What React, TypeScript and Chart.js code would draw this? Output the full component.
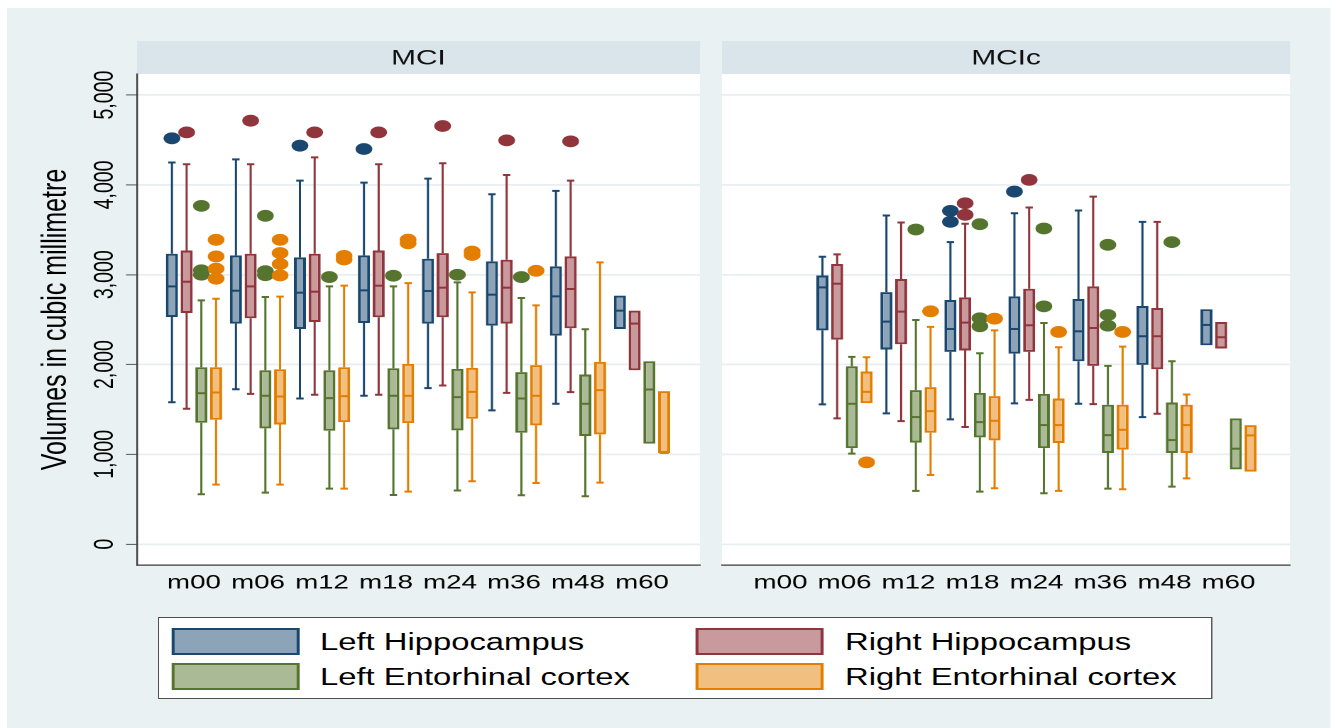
import React, { useEffect, useRef } from "react";
import { Chart, registerables } from "chart.js";

Chart.register(...registerables);

const FONT = '"Liberation Sans", Arial, Helvetica, sans-serif';
Chart.defaults.font.family = FONT;

// ---------------- data ----------------
const timepoints = ["m00", "m06", "m12", "m18", "m24", "m36", "m48", "m60"];
const panelTitles = ["MCI", "MCIc"];
const seriesNames = [
  "Left Hippocampus",
  "Right Hippocampus",
  "Left Entorhinal cortex",
  "Right Entorhinal cortex",
];
const lineColors = ["#1a476f", "#90353b", "#55752f", "#e37e00"];
const fillColors = ["#8ca3b8", "#c8999d", "#aab996", "#f1bf7f"];
const yTickValues = [0, 1000, 2000, 3000, 4000, 5000];
const yTickLabels = ["0", "1,000", "2,000", "3,000", "4,000", "5,000"];
const yAxisTitle = "Volumes in cubic millimetre";

// each entry: [lower whisker, Q1, median, Q3, upper whisker]; null = no data
const mciLeftHippocampus = [
  [1580, 2530, 2870, 3233, 4250],
  [1725, 2456, 2822, 3215, 4285],
  [1622, 2396, 2800, 3193, 4048],
  [1652, 2463, 2826, 3215, 4026],
  [1737, 2456, 2819, 3178, 4070],
  [1489, 2433, 2778, 3148, 3896],
  [1563, 2322, 2759, 3093, 3933],
  [2396, 2396, 2600, 2767, 2767],
];
const mciRightHippocampus = [
  [1508, 2574, 2922, 3270, 4230],
  [1674, 2515, 2870, 3233, 4230],
  [1663, 2474, 2811, 3233, 4307],
  [1663, 2526, 2878, 3270, 4230],
  [1767, 2526, 2856, 3241, 4241],
  [1685, 2456, 2856, 3167, 4111],
  [1693, 2404, 2841, 3204, 4048],
  [1937, 1937, 2456, 2600, 2600],
];
const mciLeftEntorhinal = [
  [556, 1352, 1681, 1970, 2714],
  [574, 1289, 1652, 1937, 2752],
  [619, 1263, 1626, 1937, 2870],
  [548, 1278, 1652, 1959, 2870],
  [597, 1267, 1637, 1952, 2915],
  [544, 1241, 1622, 1915, 2741],
  [533, 1204, 1563, 1889, 2393],
  [1119, 1119, 1722, 2037, 2037],
];
const mciRightEntorhinal = [
  [663, 1385, 1689, 1970, 2733],
  [663, 1333, 1644, 1948, 2756],
  [619, 1359, 1648, 1970, 2878],
  [585, 1348, 1652, 2008, 2907],
  [700, 1396, 1696, 1963, 2804],
  [681, 1322, 1652, 1993, 2659],
  [685, 1222, 1715, 2030, 3137],
  [1015, 1015, 1015, 1704, 1704],
];
const mciLeftHippocampusOutliers = [[4519], [], [4437], [4400], [], [], [], []];
const mciRightHippocampusOutliers = [[4585], [4715], [4585], [4585], [4656], [4496], [4485], []];
const mciLeftEntorhinalOutliers = [[3767, 3050, 3000], [3656, 3040, 2995], [2974], [2989], [3000], [2974], [], []];
const mciRightEntorhinalOutliers = [
  [3389, 3204, 3067, 2956],
  [3389, 3241, 3119, 2992],
  [3210, 3170],
  [3390, 3350],
  [3259, 3220],
  [3044],
  [],
  [],
];

const mcicLeftHippocampus = [
  null,
  [1556, 2381, 2859, 2992, 3200],
  [1456, 2167, 2478, 2807, 3659],
  [1389, 2141, 2396, 2719, 3363],
  [1567, 2122, 2396, 2759, 3685],
  [1563, 2037, 2370, 2730, 3715],
  [1415, 1996, 2315, 2652, 3589],
  [2215, 2215, 2441, 2615, 2615],
];
const mcicRightHippocampus = [
  null,
  [1400, 2278, 2900, 3119, 3226],
  [1370, 2226, 2589, 2952, 3581],
  [1304, 2156, 2467, 2748, 3567],
  [1607, 2141, 2437, 2844, 3748],
  [1559, 1985, 2407, 2870, 3870],
  [1452, 1948, 2315, 2630, 3589],
  [2178, 2178, 2304, 2474, 2474],
];
const mcicLeftEntorhinal = [
  null,
  [1008, 1070, 1563, 1981, 2085],
  [593, 1130, 1415, 1715, 2496],
  [585, 1189, 1359, 1685, 2126],
  [567, 1070, 1326, 1674, 2463],
  [619, 1015, 1214, 1552, 1985],
  [641, 1015, 1159, 1578, 2037],
  [833, 833, 1063, 1400, 1400],
];
const mcicRightEntorhinal = [
  null,
  [1570, 1570, 1696, 1922, 2081],
  [770, 1241, 1481, 1748, 2419],
  [622, 1156, 1374, 1648, 2381],
  [593, 1126, 1326, 1622, 2193],
  [611, 1052, 1274, 1552, 2200],
  [733, 1015, 1326, 1552, 1667],
  [807, 807, 1211, 1326, 1326],
];
const mcicLeftHippocampusOutliers = [[], [], [], [3711, 3589], [3926], [], [], []];
const mcicRightHippocampusOutliers = [[], [], [], [3796, 3667], [4056], [], [], []];
const mcicLeftEntorhinalOutliers = [[], [], [3504], [3563, 2515, 2426], [3515, 2648], [3333, 2552, 2433], [3363], []];
const mcicRightEntorhinalOutliers = [[], [911], [2593], [2511], [2363], [2363], [], []];

// ---------------- layout ----------------
const PAGE_W = 1336;
const PAGE_H = 728;
const W = 941; // logical width, stretched horizontally to the page width
const SX = PAGE_W / W;
const lx = (pageX: number) => pageX / SX;

const HEADER_TOP = 41;
const PLOT_TOP = 74;
const PLOT_BOTTOM = 565;
const X_AXIS_H = 40;
const PANELS = [
  { left: lx(137), right: lx(700), xmin: (137 - 194) / 64, xmax: (700 - 194) / 64 },
  { left: lx(722), right: lx(1290), xmin: (722 - 780.5) / 64, xmax: (1290 - 780.5) / 64 },
];
const Y_MIN = -232;
const Y_MAX = 5235;

const boxPlotPlugin: any = {
  id: "boxPlotDecor",
  beforeDraw(chart: any, _args: any, opts: any) {
    const { ctx, chartArea: a } = chart;
    ctx.save();
    ctx.fillStyle = "#ffffff";
    ctx.fillRect(a.left, a.top, a.right - a.left, a.bottom - a.top);
    ctx.fillStyle = "#d9e5eb";
    ctx.fillRect(a.left, HEADER_TOP, a.right - a.left, a.top - HEADER_TOP);
    ctx.fillStyle = "#111111";
    ctx.font = `21px ${FONT}`;
    ctx.textAlign = "center";
    ctx.textBaseline = "middle";
    ctx.fillText(opts.title, (a.left + a.right) / 2, (HEADER_TOP + a.top) / 2 + 1);
    ctx.restore();
  },
  afterDatasetsDraw(chart: any) {
    const { ctx } = chart;
    const ys = chart.scales.y;
    ctx.save();
    const dots: any[] = [];
    chart.data.datasets.forEach((ds: any, di: number) => {
      const meta = chart.getDatasetMeta(di);
      const color = ds.borderColor;
      meta.data.forEach((el: any, j: number) => {
        const k = ds.data[j].x;
        const st = ds.stats[k];
        if (!st) return;
        const [lo, q1, med, q3, hi] = st;
        const { x, width } = el.getProps(["x", "width"], true);
        const half = width / 2;
        const cap = 2.6;
        ctx.strokeStyle = color;
        ctx.lineCap = "butt";
        // whisker stems
        ctx.lineWidth = 1.5;
        ctx.beginPath();
        if (hi > q3) {
          ctx.moveTo(x, ys.getPixelForValue(q3));
          ctx.lineTo(x, ys.getPixelForValue(hi));
        }
        if (lo < q1) {
          ctx.moveTo(x, ys.getPixelForValue(q1));
          ctx.lineTo(x, ys.getPixelForValue(lo));
        }
        ctx.stroke();
        // caps
        ctx.lineWidth = 2;
        ctx.beginPath();
        if (hi > q3) {
          const yh = ys.getPixelForValue(hi);
          ctx.moveTo(x - cap, yh);
          ctx.lineTo(x + cap, yh);
        }
        if (lo < q1) {
          const yl = ys.getPixelForValue(lo);
          ctx.moveTo(x - cap, yl);
          ctx.lineTo(x + cap, yl);
        }
        ctx.stroke();
        // median
        const ym = ys.getPixelForValue(med);
        ctx.lineWidth = 2;
        ctx.beginPath();
        ctx.moveTo(x - half + 1, ym);
        ctx.lineTo(x + half - 1, ym);
        ctx.stroke();
        // outliers
        (ds.outliers[k] || []).forEach((v: number) => dots.push({ x, y: ys.getPixelForValue(v), color }));
      });
    });
    dots.forEach((d) => {
      ctx.fillStyle = d.color;
      ctx.beginPath();
      ctx.arc(d.x, d.y, 5.9, 0, Math.PI * 2);
      ctx.fill();
    });
    ctx.restore();
  },
};

function makeDatasets(boxes: any[], outliers: any[]) {
  return boxes.map((series: any[], i: number) => ({
    label: seriesNames[i],
    data: series
      .map((b: any, k: number) => (b ? { x: k, y: [b[1], b[3]] } : null))
      .filter(Boolean),
    stats: series,
    outliers: outliers[i],
    backgroundColor: fillColors[i],
    borderColor: lineColors[i],
    borderWidth: 2,
    borderSkipped: false,
    categoryPercentage: 0.92,
    barPercentage: 0.82,
  }));
}

function makeConfig(panel: number, boxes: any[], outliers: any[]): any {
  const p = PANELS[panel];
  const isLeft = panel === 0;
  return {
    type: "bar",
    data: { datasets: makeDatasets(boxes, outliers) },
    plugins: [boxPlotPlugin],
    options: {
      responsive: false,
      animation: false,
      devicePixelRatio: 2,
      events: [],
      layout: {
        autoPadding: false,
        padding: {
          left: isLeft ? 0 : p.left,
          right: W - p.right,
          top: PLOT_TOP,
          bottom: PAGE_H - PLOT_BOTTOM - X_AXIS_H,
        },
      },
      plugins: {
        legend: { display: false },
        tooltip: { enabled: false },
        boxPlotDecor: { title: panelTitles[panel] },
      },
      scales: {
        x: {
          type: "linear",
          min: p.xmin,
          max: p.xmax,
          offset: false,
          grid: { display: false, drawTicks: false, offset: false },
          border: { display: true, color: "#3a3a3a", width: 1.2 },
          afterBuildTicks: (s: any) => {
            s.ticks = timepoints.map((_t, k) => ({ value: k }));
          },
          afterFit: (s: any) => {
            s.height = X_AXIS_H;
          },
          ticks: {
            autoSkip: false,
            minRotation: 0,
            maxRotation: 0,
            padding: 6.3,
            color: "#000000",
            font: { size: 19.5 },
            callback: (v: any) => timepoints[v] ?? "",
          },
        },
        y: {
          type: "linear",
          min: Y_MIN,
          max: Y_MAX,
          afterBuildTicks: (s: any) => {
            s.ticks = yTickValues.map((v) => ({ value: v }));
          },
          afterFit: (s: any) => {
            s.width = isLeft ? p.left : 0;
          },
          grid: {
            color: "#e8eff2",
            lineWidth: 1.8,
            drawTicks: isLeft,
            tickLength: 7.75,
            tickColor: "#555555",
            tickWidth: 1,
          },
          border: { display: isLeft, color: "#3a3a3a", width: 1.2 },
          ticks: {
            display: isLeft,
            minRotation: 90,
            maxRotation: 90,
            crossAlign: "center",
            padding: -9.6,
            color: "#000000",
            font: { size: 19.5 },
            callback: (v: any) => yTickLabels[yTickValues.indexOf(Number(v))] ?? "",
          },
          title: {
            display: isLeft,
            text: yAxisTitle,
            color: "#000000",
            font: { size: 25 },
            padding: { top: 24.4, bottom: 0 },
          },
        },
      },
    },
  };
}

export default function App() {
  const ref1 = useRef<HTMLCanvasElement | null>(null);
  const ref2 = useRef<HTMLCanvasElement | null>(null);

  useEffect(() => {
    if (!ref1.current || !ref2.current) return;
    const c1 = new Chart(
      ref1.current,
      makeConfig(
        0,
        [mciLeftHippocampus, mciRightHippocampus, mciLeftEntorhinal, mciRightEntorhinal],
        [mciLeftHippocampusOutliers, mciRightHippocampusOutliers, mciLeftEntorhinalOutliers, mciRightEntorhinalOutliers]
      )
    );
    const c2 = new Chart(
      ref2.current,
      makeConfig(
        1,
        [mcicLeftHippocampus, mcicRightHippocampus, mcicLeftEntorhinal, mcicRightEntorhinal],
        [mcicLeftHippocampusOutliers, mcicRightHippocampusOutliers, mcicLeftEntorhinalOutliers, mcicRightEntorhinalOutliers]
      )
    );
    return () => {
      c1.destroy();
      c2.destroy();
    };
  }, []);

  const legendLeft = lx(158);
  const legendTop = 617;
  const swatchX = [lx(172), lx(696)];
  const textX = [lx(320), lx(845)];
  const rowCenter = [641, 676];

  return (
    <div
      style={{
        position: "absolute",
        left: 0,
        top: 0,
        width: PAGE_W,
        height: PAGE_H,
        overflow: "hidden",
        background: "#ffffff",
      }}
    >
      <div
        style={{
          position: "absolute",
          left: 0,
          top: 0,
          width: W,
          height: PAGE_H,
          transform: `scaleX(${SX})`,
          transformOrigin: "0 0",
        }}
      >
        <div
          style={{
            position: "absolute",
            left: lx(7),
            top: 8,
            width: lx(1331) - lx(7),
            height: PAGE_H - 8,
            background: "#e9f1f3",
          }}
        />
        <canvas ref={ref1} width={W} height={PAGE_H} style={{ position: "absolute", left: 0, top: 0 }} />
        <canvas ref={ref2} width={W} height={PAGE_H} style={{ position: "absolute", left: 0, top: 0 }} />
        <div
          style={{
            position: "absolute",
            left: legendLeft,
            top: legendTop,
            width: lx(1213) - legendLeft,
            height: 699 - legendTop,
            boxSizing: "border-box",
            background: "#ffffff",
            border: "1px solid #505050",
          }}
        />
        {seriesNames.map((name, i) => {
          const col = i % 2;
          const row = Math.floor(i / 2);
          return (
            <React.Fragment key={name}>
              <div
                style={{
                  position: "absolute",
                  left: swatchX[col],
                  top: rowCenter[row] - 13.5,
                  width: lx(299) - lx(172),
                  height: 27,
                  boxSizing: "border-box",
                  background: fillColors[i],
                  border: `2px solid ${lineColors[i]}`,
                }}
              />
              <div
                style={{
                  position: "absolute",
                  left: textX[col],
                  top: rowCenter[row] + 1 - 14,
                  height: 28,
                  lineHeight: "28px",
                  fontFamily: FONT,
                  fontSize: 23.1,
                  color: "#000000",
                  whiteSpace: "nowrap",
                }}
              >
                {name}
              </div>
            </React.Fragment>
          );
        })}
      </div>
    </div>
  );
}
